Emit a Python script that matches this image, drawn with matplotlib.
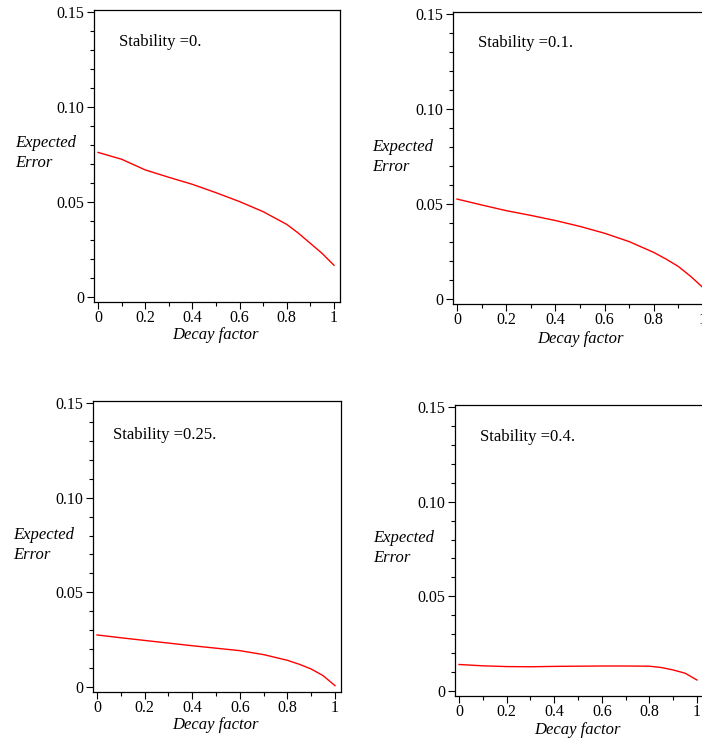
import numpy as np
import matplotlib
matplotlib.use("Agg")
import matplotlib.pyplot as plt
from matplotlib.ticker import MultipleLocator

plt.rcParams['font.family'] = ['Liberation Serif', 'DejaVu Serif']

# decay factor samples
decay = [0, 0.1, 0.2, 0.3, 0.4, 0.5, 0.6, 0.7, 0.8, 0.85, 0.9, 0.95, 1.0]

stability = ["0.", "0.1.", "0.25.", "0.4."]

err_s0 = [0.0761, 0.0725, 0.0669, 0.0630, 0.0593, 0.0549, 0.0502, 0.0449,
          0.0382, 0.0335, 0.0282, 0.0229, 0.0167]
err_s01 = [0.0526, 0.0495, 0.0465, 0.0440, 0.0413, 0.0382, 0.0346, 0.0302,
           0.0245, 0.0210, 0.0171, 0.0119, 0.0060]
err_s025 = [0.0275, 0.0260, 0.0246, 0.0232, 0.0218, 0.0205, 0.0192, 0.0171,
            0.0141, 0.0120, 0.0095, 0.0060, 0.0007]
err_s04 = [0.0140, 0.0133, 0.0129, 0.0128, 0.0130, 0.0131, 0.0132, 0.0132,
           0.0131, 0.0124, 0.0111, 0.0094, 0.0058]

W, H = 702, 741
XLIM = (-0.017, 1.025)
YLIM = (-0.0027, 0.1511)

# pixel anchors per panel: (x at 0, x at 1, y at 0, y at 0.15)
anchors = [(98, 334, 297, 12), (457, 703, 299, 14),
           (97, 335, 687, 403), (459, 697, 691, 407)]
ylab_px = [(15, 153), (372, 157), (13, 545), (373, 548)]
xlab_px = [(215, 335), (580, 339), (215, 725), (577, 730)]
stab_px = [(119, 42), (478, 43), (113, 435), (480, 437)]

fig = plt.figure(figsize=(W / 100, H / 100), dpi=100)


def fx(px):
    return px / W


def fy(py):
    return 1 - py / H


series = [err_s0, err_s01, err_s025, err_s04]
for i, err in enumerate(series):
    x0, x1, y0, y15 = anchors[i]
    sx = x1 - x0
    sy = (y0 - y15) / 0.15
    left = x0 + XLIM[0] * sx
    right = x0 + XLIM[1] * sx
    bottom = y0 - YLIM[0] * sy
    top = y0 - YLIM[1] * sy
    ax = fig.add_axes([fx(left), fy(bottom), fx(right - left), (bottom - top) / H])

    ax.plot(decay, err, color='red', lw=1.0)
    ax.set_xlim(*XLIM)
    ax.set_ylim(*YLIM)

    ax.set_yticks([0, 0.05, 0.10, 0.15])
    ax.set_yticklabels(["0", "0.05", "0.10", "0.15"])
    ax.set_xticks([0, 0.2, 0.4, 0.6, 0.8, 1.0])
    ax.set_xticklabels(["0", "0.2", "0.4", "0.6", "0.8", "1"])
    ax.xaxis.set_minor_locator(MultipleLocator(0.1))
    ax.yaxis.set_minor_locator(MultipleLocator(0.01))
    ax.tick_params(which='major', length=5, width=0.8, labelsize=11.5, pad=2)
    ax.tick_params(axis='x', which='major', pad=1)
    ax.tick_params(which='minor', length=3, width=0.8)
    for sp in ax.spines.values():
        sp.set_linewidth(0.9)

    lx, ly = ylab_px[i]
    ax.set_ylabel("Expected\nError", rotation=0, ha='left', va='center',
                  style='italic', fontsize=12, linespacing=1.35)
    ax.yaxis.set_label_coords(fx(lx), fy(ly), transform=fig.transFigure)

    xx, xy = xlab_px[i]
    ax.set_xlabel("Decay factor", style='italic', fontsize=12, va='center')
    ax.xaxis.set_label_coords(fx(xx), fy(xy), transform=fig.transFigure)

    tx, ty = stab_px[i]
    fig.text(fx(tx), fy(ty), "Stability =" + stability[i], fontsize=12,
             ha='left', va='center')

fig.savefig("out.png", dpi=100)
